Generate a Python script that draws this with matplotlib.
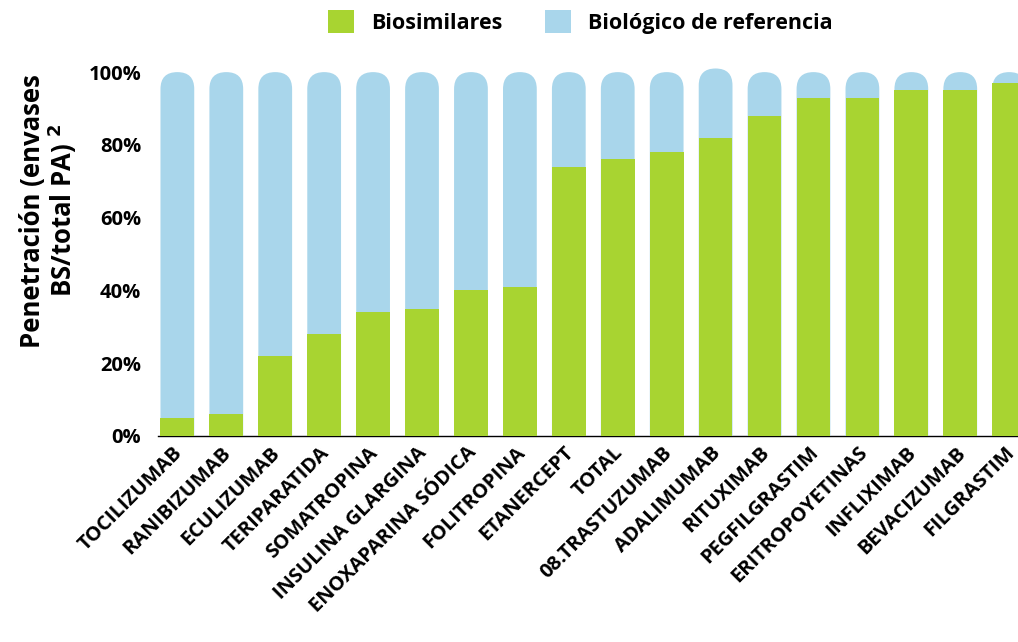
import numpy as np
import matplotlib.pyplot as plt
import matplotlib.transforms as mtransforms
from matplotlib.patches import FancyBboxPatch

# penetración de biosimilares por principio activo (%)
categorias = ['TOCILIZUMAB', 'RANIBIZUMAB', 'ECULIZUMAB', 'TERIPARATIDA', 'SOMATROPINA',
              'INSULINA GLARGINA', 'ENOXAPARINA SÓDICA', 'FOLITROPINA', 'ETANERCEPT', 'TOTAL',
              '08.TRASTUZUMAB', 'ADALIMUMAB', 'RITUXIMAB', 'PEGFILGRASTIM', 'ERITROPOYETINAS',
              'INFLIXIMAB', 'BEVACIZUMAB', 'FILGRASTIM']
biosimilares = [5, 6, 22, 28, 34, 35, 40, 41, 74, 76, 78, 82, 88, 93, 93, 95, 95, 97]
total = [100, 100, 100, 100, 100, 100, 100, 100, 100, 100, 100, 101, 100, 100, 100, 100, 100, 100]
ticks_y = [0, 20, 40, 60, 80, 100]

verde = '#a8d431'
azul = '#a9d6eb'
plt.rcParams['font.family'] = ['Open Sans', 'DejaVu Sans']
plt.rcParams['font.weight'] = 'bold'

fig = plt.figure(figsize=(10.18, 6.42), dpi=100)
ax = fig.add_axes([0.155, 0.321, 0.845, 0.595])
ax.set_xlim(-0.4, 17.18)
ax.set_ylim(0, 105)

x = np.arange(len(categorias))
w = 0.69
# escala px por unidad para redondear la parte superior
bbox = ax.get_position()
px_x = bbox.width * 1018 / (17.18 + 0.4)
px_y = bbox.height * 642 / 105
aspect = px_x / px_y

for xi, t in zip(x, total):
    r = w / 2 * 0.999
    p = FancyBboxPatch((xi - w / 2 + r, 0), w - 2 * r, t - r * aspect,
                       boxstyle='round,pad=%f,rounding_size=%f' % (r, r),
                       mutation_aspect=aspect, facecolor=azul, edgecolor='none', zorder=2)
    ax.add_patch(p)
ax.bar(x, biosimilares, width=w, color=verde, zorder=3)

# para la leyenda
ax.bar([np.nan], [0], color=verde, label='Biosimilares')
ax.bar([np.nan], [0], color=azul, label='Biológico de referencia')

for s in ['top', 'right', 'left']:
    ax.spines[s].set_visible(False)
ax.spines['bottom'].set_color('black')
ax.spines['bottom'].set_linewidth(1.0)
ax.spines['bottom'].set_zorder(1)

ax.set_yticks(ticks_y)
ax.set_yticklabels([f'{v}%' for v in ticks_y], fontsize=14.5, fontweight='bold')
ax.tick_params(axis='y', length=0, pad=12)
ax.set_xticks(x)
ax.set_xticklabels(categorias, rotation=45, ha='right', va='top', rotation_mode='anchor',
                   fontsize=14.5, fontweight='bold')
ax.tick_params(axis='x', length=0, pad=5)
desplaza = mtransforms.ScaledTranslation(-5 / 100, 0, fig.dpi_scale_trans)
for lab in ax.get_xticklabels():
    lab.set_transform(lab.get_transform() + desplaza)

fig.text(0.048, 0.672, 'Penetración (envases\nBS/total PA) $^{2}$', rotation=90,
         ha='center', va='center', fontsize=18.5, fontweight='bold', linespacing=1.0)

fig.legend(loc='upper center', bbox_to_anchor=(0.57, 1.015), ncol=2, frameon=False,
           fontsize=15.5, handlelength=1.2, handleheight=1.3, columnspacing=2.0,
           handletextpad=0.8)

fig.savefig('out.png', dpi=100)
